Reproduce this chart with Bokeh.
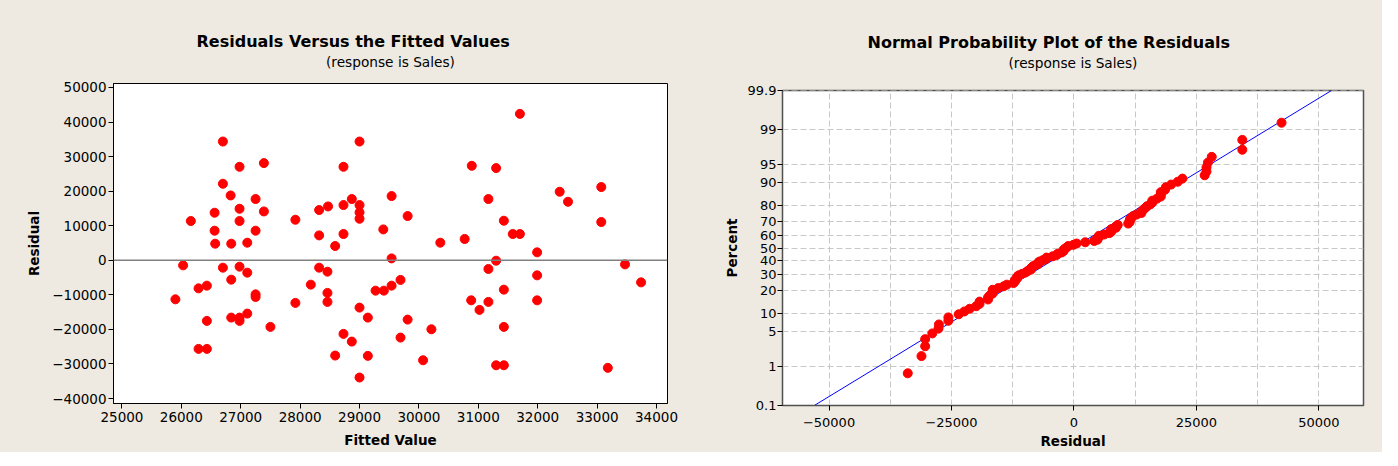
from statistics import NormalDist, mean, stdev
from bokeh.plotting import figure
from bokeh.models import Range1d, FixedTicker, Span, Title, LinearAxis, ColumnDataSource
from bokeh.layouts import row
from bokeh.embed import file_html
from bokeh.resources import INLINE

# ---------------- data ----------------
fitted = [26160, 26700, 26700, 26560, 26560, 26570, 26980, 26830, 26980, 26980,
          26840, 27110, 27250, 27250, 27390, 27390, 27920, 28320, 28320, 28470,
          28730, 28730, 28730, 28590, 28870, 29000, 29000, 29000, 29000, 29400,
          31700, 30890, 31300, 29540, 29810, 30360, 30770, 31170, 31430, 31580,
          31700, 31990, 32370, 32510, 33070, 33070, 29540, 31300, 31170, 33470,
          31990, 33740, 29690, 29540, 29270, 29410, 29140, 31430, 30880, 31170,
          31020, 31990, 29810, 30210, 29690, 31430, 29140, 30070, 31300, 31430,
          33180, 26030, 25900, 26290, 26430, 26430, 26290, 26430, 26700, 26840,
          26980, 27110, 27250, 27250, 26840, 26980, 26980, 27110, 27500, 27920,
          28180, 28320, 28460, 28460, 28460, 28730, 28590, 28870, 29000, 29000]
residual = [11360, 34360, 22140, 13760, 8560, 4800, 27050, 18760, 14910, 11360,
            4800, 5090, 17720, 8560, 28120, 14130, 11730, 14540, 7200, 15580,
            27050, 15980, 7600, 4130, 17720, 34360, 15980, 13840, 12020, 8930,
            42370, 27340, 26680, 18580, 12800, 5090, 6160, 17720, 11450, 7600,
            7600, 2300, 19830, 16940, 21190, 11070, 550, -120, -2510, -1190,
            -4360, -6390, -5690, -7340, -8790, -8790, -16590, -8500, -11590, -12050,
            -14360, -11590, -17170, -19970, -22370, -19280, -27660, -28930, -30380, -30380,
            -31130, -1470, -11300, -8120, -7340, -17540, -25640, -25640, -2140, -5610,
            -1850, -3580, -9860, -10610, -16590, -16590, -17540, -15430, -19280, -12340,
            -7050, -2140, -3300, -9450, -12050, -21300, -27570, -23530, -13700, -33930]

fitted_ticks = [25000, 26000, 27000, 28000, 29000, 30000, 31000, 32000, 33000, 34000]
resid_ticks_left = [-40000, -30000, -20000, -10000, 0, 10000, 20000, 30000, 40000, 50000]
pct_ticks = [0.1, 1, 5, 10, 20, 30, 40, 50, 60, 70, 80, 90, 95, 99, 99.9]
pct_labels = ["0.1", "1", "5", "10", "20", "30", "40", "50", "60", "70", "80", "90", "95", "99", "99.9"]
resid_ticks_right = [-50000, -25000, 0, 25000, 50000]
resid_grid_right = [-50000, -37500, -25000, -12500, 0, 12500, 25000, 37500, 50000]

title_left = "Residuals Versus the Fitted Values"
title_right = "Normal Probability Plot of the Residuals"
subtitle = "(response is Sales)"

BG = "#EEEAE1"
FONT = "DejaVu Sans"
nd = NormalDist()


def style_axes(p, tick_size="13.5px"):
    for ax in (p.xaxis, p.yaxis):
        ax.major_label_text_font = FONT
        ax.major_label_text_font_size = tick_size
        ax.major_label_text_color = "#000000"
        ax.axis_label_text_font = FONT
        ax.axis_label_text_font_size = "13.5px"
        ax.axis_label_text_font_style = "bold"
        ax.axis_label_text_color = "#000000"
        ax.major_tick_in = 0
        ax.major_tick_out = 5
        ax.minor_tick_line_color = None


def add_titles(p, main, sub_gap, sub_bounds, main_offset):
    # subtitle as the label of a bare axis above the frame
    sub_axis = LinearAxis(ticker=FixedTicker(ticks=[]), axis_label=subtitle, bounds=sub_bounds,
                          axis_line_color=None, major_tick_line_color=None,
                          minor_tick_line_color=None, major_tick_out=0, major_tick_in=0,
                          major_label_standoff=0, axis_label_standoff=sub_gap,
                          axis_label_text_font=FONT, axis_label_text_font_size="13.7px",
                          axis_label_text_font_style="normal", axis_label_text_color="#000000")
    p.add_layout(sub_axis, "above")
    p.add_layout(Title(text=main, align="left", offset=main_offset, text_font=FONT,
                       text_font_size="16px", text_font_style="bold", text_color="#000000",
                       standoff=0), "above")


# ---------------- left: residuals vs fitted ----------------
src1 = ColumnDataSource(dict(fitted=fitted, residual=residual))
p1 = figure(width=692, height=450, output_backend="svg", toolbar_location=None, title=None,
            x_range=Range1d(24858, 34185), y_range=Range1d(-41445, 51156),
            min_border_left=113, min_border_right=25, min_border_top=83, min_border_bottom=46,
            background_fill_color="white", border_fill_color=BG,
            outline_line_color="#000000", outline_line_width=1)
p1.grid.visible = False
style_axes(p1)
xa = p1.below[0]
xa.ticker = FixedTicker(ticks=fitted_ticks)
p1.yaxis.ticker = FixedTicker(ticks=resid_ticks_left)
xa.axis_label = "Fitted Value"
p1.yaxis.axis_label = "Residual"
xa.major_label_standoff = 3
p1.yaxis.major_label_standoff = 2
xa.axis_label_standoff = 7
p1.yaxis.axis_label_standoff = 7
add_titles(p1, title_left, 14, (24882, 32882), 83)
p1.add_layout(Span(location=0, dimension="width", line_color="#808080", line_width=1.5))
p1.scatter("fitted", "residual", source=src1, size=9, color="#FF0000")

# ---------------- right: normal probability plot ----------------
n = len(residual)
sorted_res = sorted(residual)
pct = [(i - 0.3) / (n + 0.4) * 100 for i in range(1, n + 1)]
zvals = [nd.inv_cdf(q / 100) for q in pct]
src2 = ColumnDataSource(dict(resid=sorted_res, z=zvals))

z_ticks = [round(nd.inv_cdf(q / 100), 6) for q in pct_ticks]
zmax = z_ticks[-1] + 0.0005
mu, sd = mean(residual), stdev(residual)

p2 = figure(width=690, height=445, output_backend="svg", toolbar_location=None, title=None,
            x_range=Range1d(-59500, 59100), y_range=Range1d(-zmax, zmax),
            min_border_left=90, min_border_right=19, min_border_top=83, min_border_bottom=46,
            background_fill_color="white", border_fill_color=BG,
            outline_line_color="#505050", outline_line_width=1.5)
p2.margin = (7, 0, 0, 0)
style_axes(p2, "13px")
xb = p2.below[0]
xb.ticker = FixedTicker(ticks=resid_ticks_right)
p2.yaxis.ticker = FixedTicker(ticks=z_ticks)
p2.yaxis.major_label_overrides = {z: lab for z, lab in zip(z_ticks, pct_labels)}
p2.xgrid.ticker = FixedTicker(ticks=resid_grid_right)
p2.ygrid.ticker = FixedTicker(ticks=z_ticks)
for g in (p2.xgrid, p2.ygrid):
    g.grid_line_color = "#C8C8C8"
    g.grid_line_dash = "6 3"
    g.grid_line_width = 1
xb.axis_label = "Residual"
p2.yaxis.axis_label = "Percent"
xb.axis_line_color = "#505050"
p2.yaxis.axis_line_color = "#505050"
xb.major_label_standoff = 7
p2.yaxis.major_label_standoff = 1
xb.axis_label_standoff = 3
p2.yaxis.axis_label_standoff = 5
add_titles(p2, title_right, 20, (-54997, 45003), 85)
p2.line([mu - sd * zmax, mu + sd * zmax], [-zmax, zmax], line_color="#0000FF", line_width=1)
p2.scatter("resid", "z", source=src2, size=9, color="#FF0000")

layout = row(p1, p2, spacing=0)
layout.styles = {"background-color": BG}
open("out.html", "w").write(file_html(layout, INLINE))
